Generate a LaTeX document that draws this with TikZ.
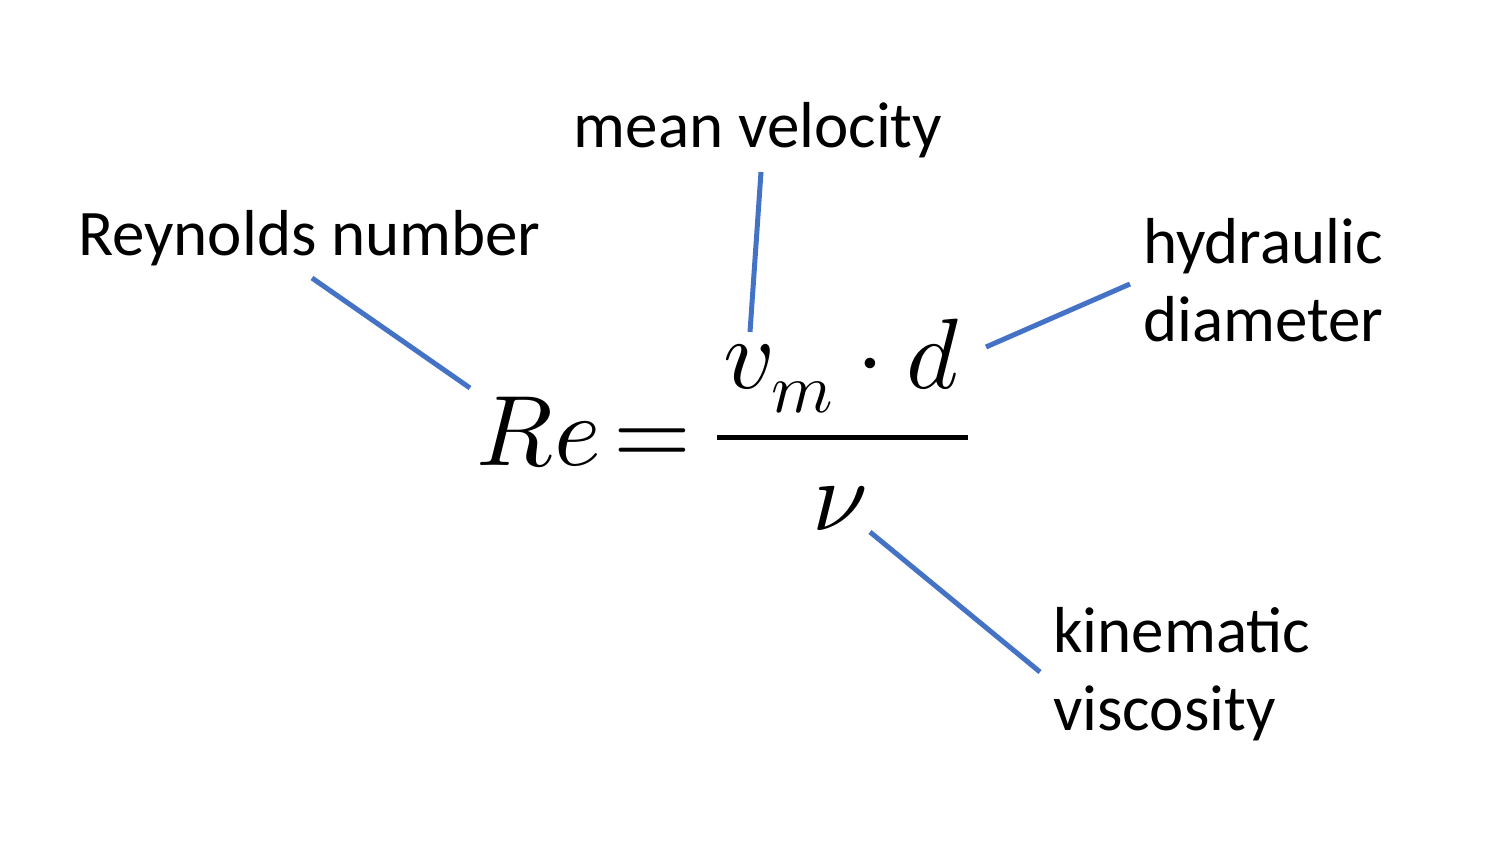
\documentclass[tikz,border=0pt]{standalone}
\usepackage{unicode-math}
\setmainfont{Carlito}
\setmathfont{Latin Modern Math}
\definecolor{lineblue}{HTML}{4472C4}
\begin{document}
\begin{tikzpicture}[x=1pt,y=-1pt,
  lbl/.style={inner sep=0pt,font=\fontsize{65}{78}\selectfont,align=left},
  mth/.style={inner sep=0pt,font=\fontsize{100}{100}\selectfont},
  lead/.style={draw=lineblue,line width=5pt}]
\useasboundingbox (0,0) rectangle (1500,843);
\node[lbl,anchor=base] (mv) at (758,147) {mean velocity};
\node[lbl,anchor=base west] (rn) at (78,255) {Reynolds number};
\node[lbl,anchor=north west] (hd) at (1143,218) {hydraulic\\diameter};
\node[lbl,anchor=north west] (kv) at (1053,607) {kinematic\\viscosity};
\node[mth,anchor=base west] (re) at (476,465) {$Re$};
\node[mth,anchor=base] (eq) at (652,465) {$=$};
\node[mth,anchor=base] (num) at (842,388) {$v_m\cdot d$};
\node[mth,anchor=base] (den) at (840,530) {$\nu$};
\coordinate (b1) at (717,437); \coordinate (b2) at (968,437);
\draw[line width=5pt] (b1) -- (b2);
\coordinate (a1) at (312,278); \coordinate (a2) at (470,388);
\coordinate (c1) at (761,172); \coordinate (c2) at (750,332);
\coordinate (d1) at (986,347); \coordinate (d2) at (1130,284);
\coordinate (e1) at (870,532); \coordinate (e2) at (1040,672);
\draw[lead] (a1) -- (a2);
\draw[lead] (c1) -- (c2);
\draw[lead] (d1) -- (d2);
\draw[lead] (e1) -- (e2);
\end{tikzpicture}
\end{document}
